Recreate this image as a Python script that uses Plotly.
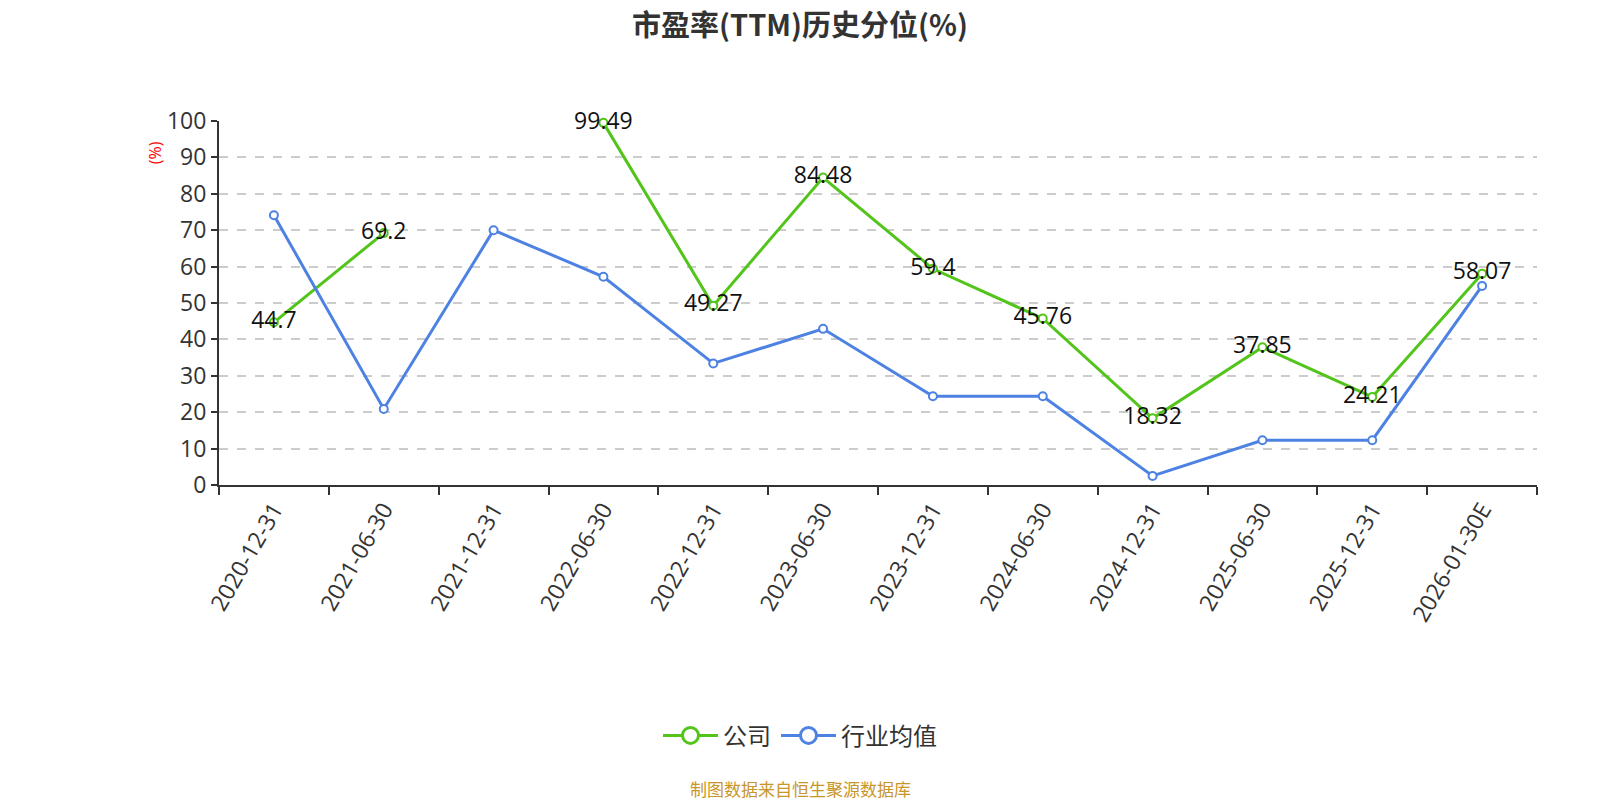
import plotly.graph_objects as go

# Dados do gráfico
datas = ['2020-12-31', '2021-06-30', '2021-12-31', '2022-06-30', '2022-12-31', '2023-06-30',
         '2023-12-31', '2024-06-30', '2024-12-31', '2025-06-30', '2025-12-31', '2026-01-30E']
empresa = [44.7, 69.2, None, 99.49, 49.27, 84.48, 59.4, 45.76, 18.32, 37.85, 24.21, 58.07]
setor = [74.1, 20.9, 70.0, 57.2, 33.4, 42.9, 24.4, 24.4, 2.5, 12.3, 12.3, 54.7]

VERDE = '#52c41a'
AZUL = '#4d82e3'
FONTE = "Open Sans, Noto Sans CJK SC, Microsoft YaHei, sans-serif"
FONTE_CJK = "Noto Sans CJK SC, Microsoft YaHei, sans-serif"
CENTRO = (800 - 219) / 1318  # centro da página em coordenadas do papel

fig = go.Figure()

fig.add_trace(go.Scatter(
    x=datas, y=empresa, mode='lines+markers+text', name='公司', showlegend=False,
    line=dict(color=VERDE, width=3),
    marker=dict(size=8, color='white', line=dict(color=VERDE, width=2)),
    text=[('' if v is None else f'{v:g}') for v in empresa],
    textposition='middle center',
    textfont=dict(size=23, color='#111111', family=FONTE),
    connectgaps=False, cliponaxis=False
))

fig.add_trace(go.Scatter(
    x=datas, y=setor, mode='lines+markers', name='行业均值', showlegend=False,
    line=dict(color=AZUL, width=3),
    marker=dict(size=8, color='white', line=dict(color=AZUL, width=2)),
    cliponaxis=False
))

# Entradas da legenda com ícone maior (estilo ECharts)
for nome, cor in [('公司', VERDE), ('行业均值', AZUL)]:
    fig.add_trace(go.Scatter(
        x=[None], y=[None], mode='lines+markers', name=nome,
        line=dict(color=cor, width=3),
        marker=dict(size=20, color='white', line=dict(color=cor, width=3))
    ))

fig.update_layout(
    width=1600, height=800,
    paper_bgcolor='white', plot_bgcolor='white',
    font=dict(family=FONTE, color='#333333'),
    margin=dict(l=219, r=63, t=121, b=315),
    title=dict(text='<b>市盈率(TTM)历史分位(%)</b>', x=0.5, xanchor='center',
               y=0.968, yanchor='middle',
               font=dict(size=29, color='#333333', family=FONTE_CJK)),
    showlegend=True,
    legend=dict(orientation='h', x=CENTRO, xanchor='center', y=-0.689, yanchor='middle',
                font=dict(size=24, color='#333333', family=FONTE_CJK),
                itemsizing='trace', itemwidth=55),
    xaxis=dict(
        type='category', range=[-0.5, 11.5], tickson='boundaries',
        showgrid=False, showline=True, linecolor='#333333', linewidth=2,
        ticks='outside', ticklen=8, tickcolor='#333333', tickwidth=2,
        tickangle=-60, tickfont=dict(size=23, color='#333333')
    ),
    yaxis=dict(
        range=[0, 100], dtick=10, showgrid=True, gridcolor='#cccccc', griddash='dash',
        gridwidth=1.5, zeroline=False, showline=True, linecolor='#333333', linewidth=2,
        ticks='outside', ticklen=6, tickcolor='#333333', tickwidth=2,
        tickfont=dict(size=23, color='#333333')
    ),
    annotations=[
        dict(text='(%)', x=-0.0486, y=0.914, xref='paper', yref='paper', showarrow=False,
             xanchor='center', yanchor='middle',
             textangle=-90, font=dict(size=16, color='red')),
        dict(text='制图数据来自恒生聚源数据库', x=CENTRO, y=-0.834, xref='paper', yref='paper',
             showarrow=False, xanchor='center', yanchor='middle',
             font=dict(size=17, color='#c8962a', family=FONTE_CJK)),
    ]
)

# tira a margem padrão do <body> para a figura ficar em (0,0)
fig.write_html("out.html", config={'displayModeBar': False},
               post_script="document.body.style.margin='0';")
